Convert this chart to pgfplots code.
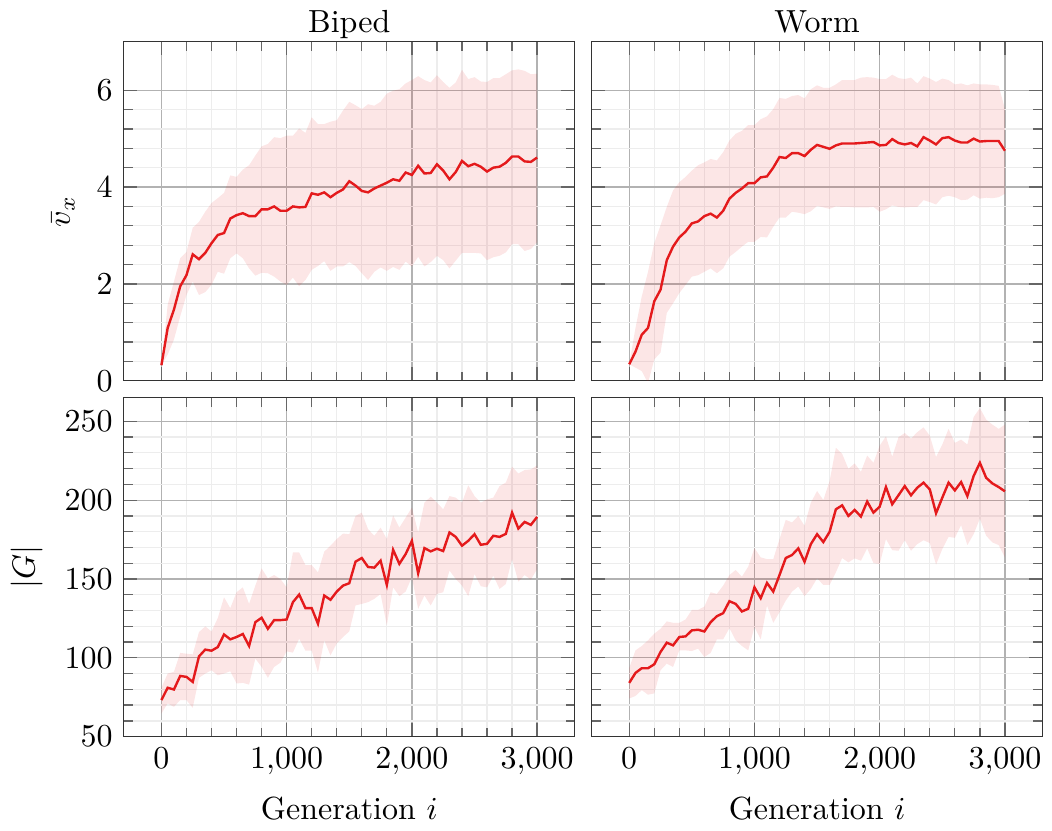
\documentclass[border=0pt]{standalone}
\usepackage{pgfplots}
\pgfplotsset{compat=1.18}
\usepackage{pgfplotstable}
\usepgfplotslibrary{groupplots,fillbetween}
\definecolor{cred}{HTML}{E41A1C}

\pgfplotstableread{
x m lo hi
0 0.32 0.32 0.32
50 1.09 0.54 1.57
100 1.47 0.85 2.05
150 1.95 1.33 2.53
200 2.18 1.77 2.66
250 2.61 2.05 3.16
300 2.51 1.77 3.28
350 2.64 1.83 3.49
400 2.84 1.98 3.67
450 3.01 2.25 3.77
500 3.05 2.21 3.88
550 3.35 2.53 4.24
600 3.42 2.63 4.21
650 3.46 2.53 4.36
700 3.40 2.32 4.45
750 3.40 2.17 4.65
800 3.54 2.23 4.84
850 3.54 2.22 4.89
900 3.60 2.15 5.03
950 3.51 2.05 5.01
1000 3.51 1.98 5.06
1050 3.60 2.13 5.06
1100 3.58 1.95 5.21
1150 3.59 2.08 5.12
1200 3.87 2.29 5.44
1250 3.84 2.37 5.30
1300 3.89 2.47 5.30
1350 3.79 2.27 5.35
1400 3.88 2.36 5.38
1450 3.95 2.36 5.58
1500 4.12 2.45 5.76
1550 4.03 2.37 5.69
1600 3.92 2.22 5.61
1650 3.89 2.08 5.71
1700 3.97 2.25 5.68
1750 4.03 2.34 5.76
1800 4.09 2.27 5.93
1850 4.16 2.35 5.99
1900 4.13 2.29 6.02
1950 4.30 2.46 6.14
2000 4.25 2.36 6.21
2050 4.44 2.56 6.29
2100 4.28 2.36 6.21
2150 4.29 2.45 6.16
2200 4.47 2.58 6.31
2250 4.34 2.49 6.17
2300 4.16 2.32 6.05
2350 4.31 2.48 6.16
2400 4.54 2.64 6.42
2450 4.43 2.64 6.23
2500 4.48 2.64 6.27
2550 4.42 2.63 6.18
2600 4.32 2.49 6.17
2650 4.40 2.55 6.25
2700 4.42 2.58 6.25
2750 4.50 2.65 6.33
2800 4.63 2.82 6.41
2850 4.63 2.82 6.43
2900 4.53 2.68 6.40
2950 4.52 2.72 6.33
3000 4.61 2.86 6.34
}\bipedv

\pgfplotstableread{
x m lo hi
0 0.34 0.34 0.34
50 0.60 0.27 1.09
100 0.95 0.20 1.74
150 1.09 -0.05 2.25
200 1.64 0.44 2.84
250 1.88 0.58 3.21
300 2.49 1.40 3.59
350 2.77 1.60 3.93
400 2.96 1.81 4.10
450 3.08 1.98 4.21
500 3.25 2.15 4.34
550 3.29 2.18 4.45
600 3.40 2.25 4.51
650 3.45 2.32 4.58
700 3.37 2.22 4.55
750 3.51 2.32 4.72
800 3.76 2.56 4.96
850 3.88 2.66 5.10
900 3.97 2.77 5.16
950 4.08 2.87 5.28
1000 4.08 2.87 5.28
1050 4.20 2.97 5.40
1100 4.22 2.96 5.46
1150 4.40 3.18 5.61
1200 4.62 3.37 5.84
1250 4.60 3.37 5.82
1300 4.70 3.49 5.88
1350 4.70 3.47 5.90
1400 4.64 3.44 5.83
1450 4.77 3.50 6.02
1500 4.87 3.61 6.10
1550 4.83 3.58 6.05
1600 4.79 3.55 6.05
1650 4.86 3.60 6.12
1700 4.90 3.59 6.21
1750 4.90 3.59 6.21
1800 4.90 3.58 6.21
1850 4.91 3.58 6.26
1900 4.92 3.58 6.27
1950 4.93 3.59 6.26
2000 4.86 3.49 6.23
2050 4.87 3.54 6.23
2100 4.99 3.62 6.32
2150 4.91 3.59 6.25
2200 4.88 3.58 6.23
2250 4.91 3.59 6.26
2300 4.84 3.59 6.14
2350 5.03 3.73 6.29
2400 4.96 3.69 6.24
2450 4.88 3.64 6.17
2500 5.01 3.79 6.24
2550 5.03 3.82 6.21
2600 4.96 3.79 6.12
2650 4.92 3.73 6.14
2700 4.92 3.74 6.10
2750 5.00 3.83 6.14
2800 4.94 3.76 6.12
2850 4.95 3.78 6.12
2900 4.95 3.77 6.11
2950 4.95 3.79 6.09
3000 4.75 3.86 5.61
}\wormv

\pgfplotstableread{
x m lo hi
0 73.2 64.7 81.0
50 81.0 71.1 90.0
100 79.9 68.9 91.1
150 88.5 73.2 103.1
200 87.9 73.2 102.6
250 84.7 68.3 102.2
300 100.9 87.3 116.3
350 105.2 90.0 119.9
400 104.5 92.1 116.7
450 106.8 88.9 125.2
500 114.8 90.0 138.4
550 111.7 91.5 131.5
600 113.2 83.7 141.6
650 115.1 84.1 144.7
700 107.5 83.0 134.2
750 122.6 99.5 145.8
800 125.4 94.2 156.7
850 118.4 87.3 150.4
900 123.9 94.2 152.5
950 123.9 96.9 150.0
1000 124.3 104.1 144.7
1050 135.3 103.3 166.8
1100 140.1 112.1 166.8
1150 131.5 104.5 158.8
1200 131.5 104.5 158.8
1250 121.6 90.6 154.2
1300 139.5 111.1 167.3
1350 136.8 101.6 171.1
1400 142.0 109.1 175.3
1450 145.8 113.2 178.8
1500 147.3 116.7 178.4
1550 161.0 133.2 190.0
1600 163.3 134.2 192.1
1650 157.6 135.3 181.6
1700 157.2 137.4 177.4
1750 161.6 140.5 182.6
1800 146.2 120.5 175.3
1850 168.5 144.7 190.4
1900 159.6 139.1 182.6
1950 165.8 142.0 188.9
2000 174.2 151.1 195.3
2050 153.6 131.1 179.5
2100 169.6 139.5 198.4
2150 167.5 133.2 202.2
2200 169.2 140.5 198.4
2250 167.7 141.6 194.2
2300 179.5 155.3 202.6
2350 176.7 150.0 201.6
2400 171.1 145.8 198.4
2450 174.2 139.1 209.4
2500 178.4 153.2 202.6
2550 171.7 145.4 198.4
2600 172.3 144.7 200.5
2650 177.4 152.1 201.6
2700 176.7 143.7 208.9
2750 178.6 146.8 211.1
2800 192.1 162.6 221.2
2850 182.0 148.3 216.9
2900 186.2 152.5 219.1
2950 184.3 149.6 219.5
3000 189.4 156.3 222.0
}\bipedg

\pgfplotstableread{
x m lo hi
0 84.1 74.2 93.6
50 90.4 75.8 104.7
100 93.4 79.5 107.5
150 93.4 76.6 111.1
200 95.9 77.4 115.3
250 103.7 92.1 118.4
300 109.6 96.3 123.1
350 107.9 94.2 122.2
400 113.2 104.7 122.2
450 113.6 104.7 124.3
500 117.4 104.3 130.4
550 117.8 105.8 130.4
600 116.7 100.5 132.5
650 122.6 103.1 141.6
700 126.4 111.7 140.5
750 128.3 111.7 145.8
800 135.9 118.8 152.5
850 134.2 111.1 155.7
900 129.4 107.5 151.5
950 131.1 104.7 157.8
1000 144.7 119.5 169.6
1050 137.8 111.7 163.7
1100 147.5 133.2 162.6
1150 142.0 122.2 162.6
1200 152.5 128.9 175.3
1250 163.3 136.3 187.5
1300 165.2 142.0 185.9
1350 169.4 145.2 190.0
1400 160.9 139.1 183.7
1450 172.1 143.7 198.4
1500 178.4 150.4 205.8
1550 173.4 146.2 200.1
1600 179.9 146.2 212.1
1650 194.2 154.2 233.2
1700 196.7 163.3 229.4
1750 190.0 160.5 219.9
1800 193.8 163.1 223.3
1850 189.6 161.6 218.0
1900 199.1 169.4 228.3
1950 192.1 160.1 223.7
2000 195.9 159.5 234.6
2050 208.3 175.3 240.5
2100 197.4 168.3 227.5
2150 203.1 167.9 239.9
2200 208.9 174.6 242.6
2250 203.1 167.9 239.1
2300 207.9 172.1 243.1
2350 211.1 174.6 246.2
2400 206.8 172.8 240.9
2450 191.7 159.1 227.3
2500 201.6 169.0 235.3
2550 211.1 176.7 245.2
2600 206.2 176.1 236.3
2650 211.5 184.1 238.4
2700 202.6 171.5 235.3
2750 215.3 178.4 252.7
2800 223.7 188.3 258.4
2850 214.2 177.4 251.1
2900 210.6 173.2 247.9
2950 208.3 171.5 245.2
3000 205.6 163.7 247.9
}\wormg

\pgfplotsset{
  band/.style={cred, fill opacity=0.11, draw=none},
  meanline/.style={cred, line width=0.75pt},
}

\begin{document}
\begin{tikzpicture}
\begin{groupplot}[
  group style={group size=2 by 2, horizontal sep=5.3pt, vertical sep=5.3pt,
    xticklabels at=edge bottom, yticklabels at=edge left},
  width=141pt, height=106pt, scale only axis,
  xmin=-300, xmax=3300, xtick={0,1000,2000,3000}, minor x tick num=4,
  scaled x ticks=false,
  grid=both,
  major grid style={black!30},
  minor grid style={black!7},
  axis line style={black!80},
  every tick/.style={black!60},
  every axis title shift=0pt,
  title style={at={(0.5,1)}, anchor=base, yshift=2.8pt},
  clip=true,
]
\nextgroupplot[title={Biped}, ymin=0, ymax=7, ytick={0,2,4,6}, minor y tick num=4, ylabel={$\bar{v}_x$}]
\addplot[draw=none, name path=A] table[x=x, y=hi]{\bipedv};
\addplot[draw=none, name path=B] table[x=x, y=lo]{\bipedv};
\addplot[band] fill between[of=A and B];
\addplot[meanline] table[x=x, y=m]{\bipedv};

\nextgroupplot[title={Worm}, ymin=0, ymax=7, ytick={0,2,4,6}, minor y tick num=4]
\addplot[draw=none, name path=A] table[x=x, y=hi]{\wormv};
\addplot[draw=none, name path=B] table[x=x, y=lo]{\wormv};
\addplot[band] fill between[of=A and B];
\addplot[meanline] table[x=x, y=m]{\wormv};

\nextgroupplot[ymin=50, ymax=265, ytick={50,100,150,200,250}, minor y tick num=4, ylabel={$|G|$}, xlabel={Generation $i$}]
\addplot[draw=none, name path=A] table[x=x, y=hi]{\bipedg};
\addplot[draw=none, name path=B] table[x=x, y=lo]{\bipedg};
\addplot[band] fill between[of=A and B];
\addplot[meanline] table[x=x, y=m]{\bipedg};

\nextgroupplot[ymin=50, ymax=265, ytick={50,100,150,200,250}, minor y tick num=4, xlabel={Generation $i$}]
\addplot[draw=none, name path=A] table[x=x, y=hi]{\wormg};
\addplot[draw=none, name path=B] table[x=x, y=lo]{\wormg};
\addplot[band] fill between[of=A and B];
\addplot[meanline] table[x=x, y=m]{\wormg};
\end{groupplot}
\end{tikzpicture}
\end{document}
